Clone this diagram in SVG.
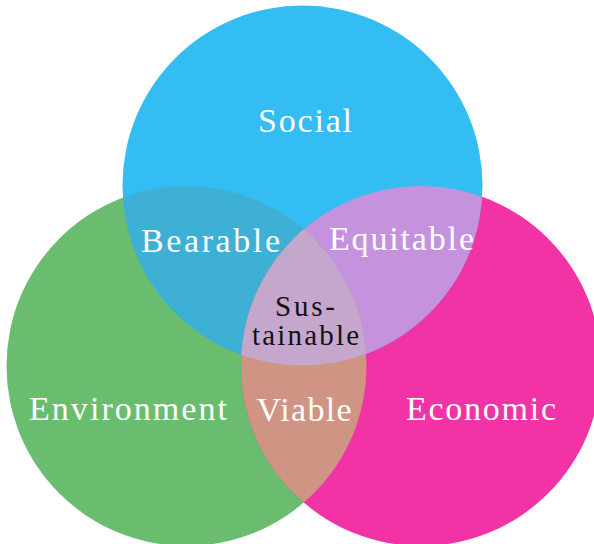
<svg xmlns="http://www.w3.org/2000/svg" width="594" height="544" viewBox="0 0 594 544">
<style>
.lbl{font-family:"Liberation Serif","DejaVu Serif",serif;font-size:34px;fill:#ffffff;text-anchor:middle}
.core{font-family:"Liberation Serif","DejaVu Serif",serif;font-size:29px;fill:#111111;text-anchor:middle}
</style>
<defs>
<clipPath id="cS"><circle cx="302.5" cy="185.5" r="180"/></clipPath>
<clipPath id="cE"><circle cx="186.5" cy="366" r="180"/></clipPath>
<clipPath id="cP"><circle cx="421" cy="366" r="180"/></clipPath>
</defs>
<rect width="594" height="544" fill="#ffffff"/>
<g id="environment"><circle cx="186.5" cy="366" r="180" fill="#6ABD6F"/></g>
<g id="economic"><circle cx="421" cy="366" r="180" fill="#F133A6"/></g>
<g id="social"><circle cx="302.5" cy="185.5" r="180" fill="#33BDF2"/></g>
<g id="bearable"><g clip-path="url(#cS)"><circle cx="186.5" cy="366" r="180" fill="#3EB0D6"/></g></g>
<g id="equitable"><g clip-path="url(#cS)"><circle cx="421" cy="366" r="180" fill="#C592DD"/></g></g>
<g id="viable"><g clip-path="url(#cE)"><circle cx="421" cy="366" r="180" fill="#CF9484"/></g></g>
<g id="sustainable"><g clip-path="url(#cS)"><g clip-path="url(#cE)"><circle cx="421" cy="366" r="180" fill="#C5A7CD"/></g></g></g>
<g id="labels">
<text class="lbl" x="305" y="132" textLength="94" lengthAdjust="spacing">Social</text>
<text class="lbl" x="210.5" y="252" textLength="139" lengthAdjust="spacing">Bearable</text>
<text class="lbl" x="401.5" y="250" textLength="145" lengthAdjust="spacing">Equitable</text>
<text class="lbl" x="128" y="420" textLength="198" lengthAdjust="spacing">Environment</text>
<text class="lbl" x="304" y="421" textLength="95" lengthAdjust="spacing">Viable</text>
<text class="lbl" x="481" y="420" textLength="150" lengthAdjust="spacing">Economic</text>
<text class="core" x="305" y="316" textLength="60" lengthAdjust="spacing">Sus-</text>
<text class="core" x="305.5" y="345" textLength="107" lengthAdjust="spacing">tainable</text>
</g>
<g id="connectors"/>
</svg>
